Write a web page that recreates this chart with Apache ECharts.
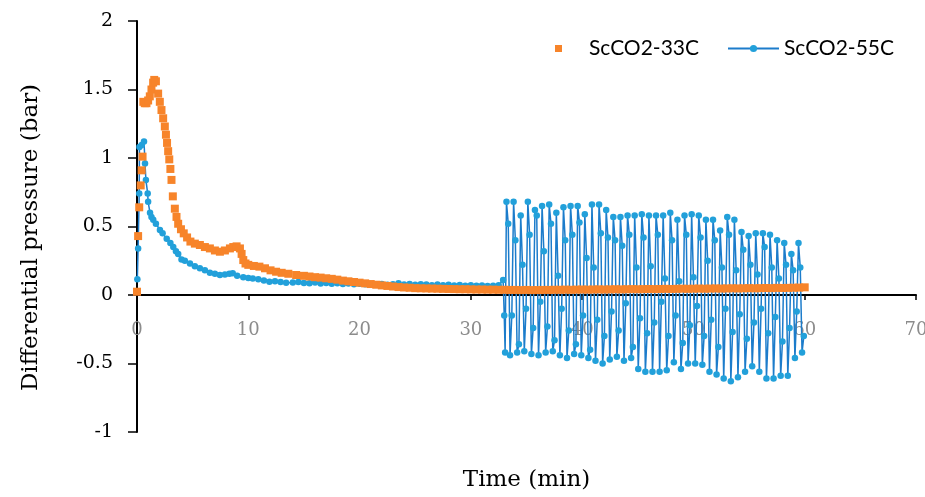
<!DOCTYPE html>
<html>
<head>
    <meta charset="utf-8">
    <script type="text/javascript" src="https://cdn.jsdelivr.net/npm/echarts@6/dist/echarts.min.js"></script>
</head>
<body style="margin: 0">
    <div id="container" style="height: 497px; width: 925px;"></div>
    <script type="text/javascript">
    // ScCO2-33C : [time (min), differential pressure (bar)]
    var orangeEarly = [
        [0, 0.024], [0.1, 0.43], [0.2, 0.64], [0.33, 0.80], [0.42, 0.91], [0.5, 1.01],
        [0.57, 1.41], [0.7, 1.40], [0.85, 1.40], [1.0, 1.42], [1.15, 1.45], [1.3, 1.50],
        [1.45, 1.55], [1.55, 1.57], [1.7, 1.56], [1.9, 1.47], [2.05, 1.41], [2.2, 1.35],
        [2.35, 1.29], [2.5, 1.23], [2.6, 1.17], [2.7, 1.11], [2.8, 1.05], [2.9, 0.99],
        [3.0, 0.92], [3.1, 0.84], [3.22, 0.72], [3.4, 0.63], [3.55, 0.57], [3.7, 0.52],
        [3.95, 0.48], [4.2, 0.45], [4.5, 0.42], [4.8, 0.39], [5.2, 0.375], [5.65, 0.365],
        [6.1, 0.35], [6.55, 0.34], [7.0, 0.325], [7.45, 0.316], [7.9, 0.325], [8.35, 0.34],
        [8.65, 0.35], [8.95, 0.355], [9.25, 0.34], [9.4, 0.30], [9.55, 0.255], [9.75, 0.23],
        [10.0, 0.22], [10.5, 0.212], [11.0, 0.207], [11.5, 0.195], [12.0, 0.18], [12.5, 0.17],
        [13.0, 0.162], [13.6, 0.155], [14.3, 0.146], [15, 0.14], [15.5, 0.135], [16, 0.13],
        [16.5, 0.127], [17, 0.122], [17.5, 0.118], [18, 0.112], [18.5, 0.105], [19, 0.10],
        [19.5, 0.095], [20, 0.09], [20.5, 0.085], [21, 0.08], [21.5, 0.075], [22, 0.07],
        [22.5, 0.066], [23, 0.062], [23.5, 0.058], [24, 0.055], [24.5, 0.053]
    ];
    // from 25 min on, one reading every 0.5 min
    var orangeLateStart = 25;
    var orangeLateStep = 0.5;
    var orangeLate = [
        0.050, 0.049, 0.048, 0.047, 0.046, 0.045, 0.044, 0.043, 0.042, 0.042, 0.041,
        0.040, 0.040, 0.039, 0.039, 0.038, 0.038, 0.037, 0.037, 0.036, 0.037,
        0.036, 0.036, 0.037, 0.037, 0.038, 0.038, 0.039, 0.038, 0.039, 0.040,
        0.039, 0.040, 0.041, 0.040, 0.041, 0.042, 0.041, 0.042, 0.043, 0.042,
        0.043, 0.044, 0.043, 0.044, 0.045, 0.044, 0.045, 0.046, 0.045, 0.046,
        0.047, 0.046, 0.047, 0.048, 0.047, 0.048, 0.049, 0.048, 0.049, 0.050,
        0.049, 0.050, 0.051, 0.050, 0.052, 0.051, 0.052, 0.053, 0.054, 0.056
    ];

    // ScCO2-55C : [time (min), differential pressure (bar)]
    var blueEarly = [
        [0.03, 0.115], [0.1, 0.34], [0.2, 0.74], [0.22, 1.08], [0.42, 1.095], [0.63, 1.12],
        [0.72, 0.96], [0.8, 0.84], [0.96, 0.74], [1.0, 0.68], [1.17, 0.60], [1.3, 0.57],
        [1.46, 0.55], [1.7, 0.52], [2.06, 0.475], [2.3, 0.45], [2.67, 0.41], [3.0, 0.38],
        [3.26, 0.35], [3.5, 0.32], [3.7, 0.30], [4.0, 0.26], [4.3, 0.25], [4.76, 0.23],
        [5.2, 0.21], [5.65, 0.195], [6.1, 0.18], [6.55, 0.163], [7.0, 0.155], [7.45, 0.146],
        [7.9, 0.15], [8.3, 0.155], [8.6, 0.158], [9.0, 0.14], [9.55, 0.13], [10.0, 0.125],
        [10.4, 0.12], [10.9, 0.115], [11.4, 0.105], [11.9, 0.097], [12.4, 0.10], [12.9, 0.095],
        [13.4, 0.09], [14.0, 0.092], [14.5, 0.095], [15, 0.088], [15.5, 0.085], [16, 0.092],
        [16.5, 0.084], [17, 0.088], [17.5, 0.082], [18, 0.086], [18.5, 0.08], [19, 0.084],
        [19.5, 0.078], [20, 0.082], [20.5, 0.078], [21, 0.08], [21.5, 0.076], [22, 0.08],
        [22.5, 0.075], [23, 0.078], [23.5, 0.085], [24, 0.076], [24.5, 0.08], [25, 0.074],
        [25.5, 0.078], [26, 0.076], [26.5, 0.072], [27, 0.076], [27.5, 0.071], [28, 0.074],
        [28.5, 0.07], [29, 0.073], [29.5, 0.068], [30, 0.071], [30.5, 0.067], [31, 0.07],
        [31.5, 0.066], [32, 0.068], [32.5, 0.072], [32.9, 0.11], [33.0, -0.15], [33.08, -0.42]
    ];
    // oscillating part: one reading every 0.16 min from 33.2 min
    var blueOscStart = 33.2;
    var blueOscStep = 0.16;
    var blueOsc = [
        0.68, 0.52, -0.44, -0.15,   0.68, 0.40, -0.42, -0.36,   0.58, 0.22, -0.41, -0.10,
        0.68, 0.44, -0.43, -0.24,   0.62, 0.58, -0.44, -0.05,   0.65, 0.32, -0.42, -0.23,
        0.66, 0.52, -0.41, -0.33,   0.60, 0.14, -0.44, -0.10,   0.64, 0.40, -0.46, -0.26,
        0.65, 0.44, -0.43, -0.36,   0.65, 0.53, -0.44, -0.15,   0.59, 0.27, -0.46, -0.40,
        0.66, 0.20, -0.48, -0.18,   0.66, 0.45, -0.50, -0.30,   0.62, 0.42, -0.47, -0.12,
        0.57, 0.40, -0.45, -0.26,   0.57, 0.36, -0.48, -0.06,   0.58, 0.44, -0.46, -0.38,
        0.58, 0.20, -0.54, -0.17,   0.59, 0.42, -0.56, -0.28,   0.58, 0.21, -0.56, -0.20,
        0.58, 0.44, -0.56, -0.05,   0.58, 0.12, -0.55, -0.30,   0.60, 0.40, -0.49, -0.15,
        0.55, 0.10, -0.54, -0.35,   0.58, 0.44, -0.50, -0.22,   0.59, 0.13, -0.50, -0.08,
        0.58, 0.42, -0.51, -0.30,   0.55, 0.25, -0.56, -0.18,   0.55, 0.40, -0.58, -0.38,
        0.47, 0.20, -0.61, -0.10,   0.57, 0.44, -0.63, -0.27,   0.55, 0.18, -0.60, -0.14,
        0.46, 0.33, -0.56, -0.32,   0.43, 0.22, -0.52, -0.20,   0.45, 0.15, -0.56, -0.10,
        0.45, 0.35, -0.61, -0.28,   0.44, 0.20, -0.61, -0.16,   0.40, 0.12, -0.59, -0.34,
        0.38, 0.22, -0.59, -0.24,   0.30, 0.18, -0.46, -0.12,   0.38, 0.20, -0.42, -0.30
    ];

    var yTicks = { min: -1, max: 2, interval: 0.5 };
    var xTicks = { min: 0, max: 70, interval: 10 };

    var orangeData = orangeEarly.slice();
    orangeLate.forEach(function (v, i) {
        orangeData.push([orangeLateStart + i * orangeLateStep, v]);
    });
    var blueData = blueEarly.slice();
    blueOsc.forEach(function (v, i) {
        blueData.push([+(blueOscStart + i * blueOscStep).toFixed(2), v]);
    });

    var orange = '#F7842A';
    var blueDot = '#22A0DA';
    var blueLine = '#1C7CCB';
    var serif = 'DejaVu Serif';

    // plot box; the time axis sits on the zero line (y = 0 is 1/3 up from the bottom)
    var gridTop = 21, gridBottom = 65;
    var plotH = 497 - gridTop - gridBottom;
    var zeroShift = plotH * (0 - yTicks.min) / (yTicks.max - yTicks.min);

    var dom = document.getElementById("container");
    var myChart = echarts.init(dom);
    var option = {
        animation: false,
        backgroundColor: '#fff',
        grid: { left: 137, right: 9, top: gridTop, bottom: gridBottom, outerBoundsMode: 'none', containLabel: false },
        legend: [{
            data: ['ScCO2-33C'],
            left: 550,
            top: 33,
            itemWidth: 7,
            itemHeight: 7,
            textStyle: { fontFamily: 'Lato', fontSize: 21, color: '#000', padding: [0, 0, 0, 22] }
        }, {
            data: ['ScCO2-55C'],
            left: 722,
            top: 33,
            itemWidth: 51,
            itemHeight: 9,
            textStyle: { fontFamily: 'Lato', fontSize: 21, color: '#000' }
        }],
        xAxis: {
            type: 'value',
            min: xTicks.min,
            max: xTicks.max,
            interval: xTicks.interval,
            offset: -zeroShift,
            name: 'Time (min)',
            nameLocation: 'middle',
            nameGap: 174,
            nameTextStyle: { fontFamily: serif, fontSize: 23, color: '#000' },
            axisLine: { onZero: false, lineStyle: { color: '#000', width: 2 } },
            axisTick: { length: 5, lineStyle: { color: '#000', width: 1.5 } },
            axisLabel: { margin: 26, fontFamily: serif, fontSize: 18, color: '#8c8c8c' },
            splitLine: { show: false }
        },
        yAxis: {
            type: 'value',
            min: yTicks.min,
            max: yTicks.max,
            interval: yTicks.interval,
            name: 'Differential pressure (bar)',
            nameLocation: 'middle',
            nameGap: 94,
            nameTextStyle: { fontFamily: serif, fontSize: 23, color: '#000', padding: [0, 22, 0, 0] },
            axisLine: { onZero: false, lineStyle: { color: '#000', width: 2 } },
            axisTick: { show: true, length: 9, lineStyle: { color: '#000', width: 1.5 } },
            axisLabel: { margin: 24, fontFamily: serif, fontSize: 19, color: '#000' },
            splitLine: { show: false }
        },
        series: [{
            name: 'ScCO2-55C',
            type: 'line',
            data: blueData,
            symbol: 'circle',
            symbolSize: 6.5,
            showAllSymbol: true,
            itemStyle: { color: blueDot },
            lineStyle: { color: blueLine, width: 1.5 },
            z: 2
        }, {
            name: 'ScCO2-33C',
            type: 'scatter',
            data: orangeData,
            symbol: 'rect',
            symbolSize: 8,
            itemStyle: { color: orange, opacity: 1 },
            z: 3
        }]
    };
    myChart.setOption(option);
    </script>
</body>
</html>
